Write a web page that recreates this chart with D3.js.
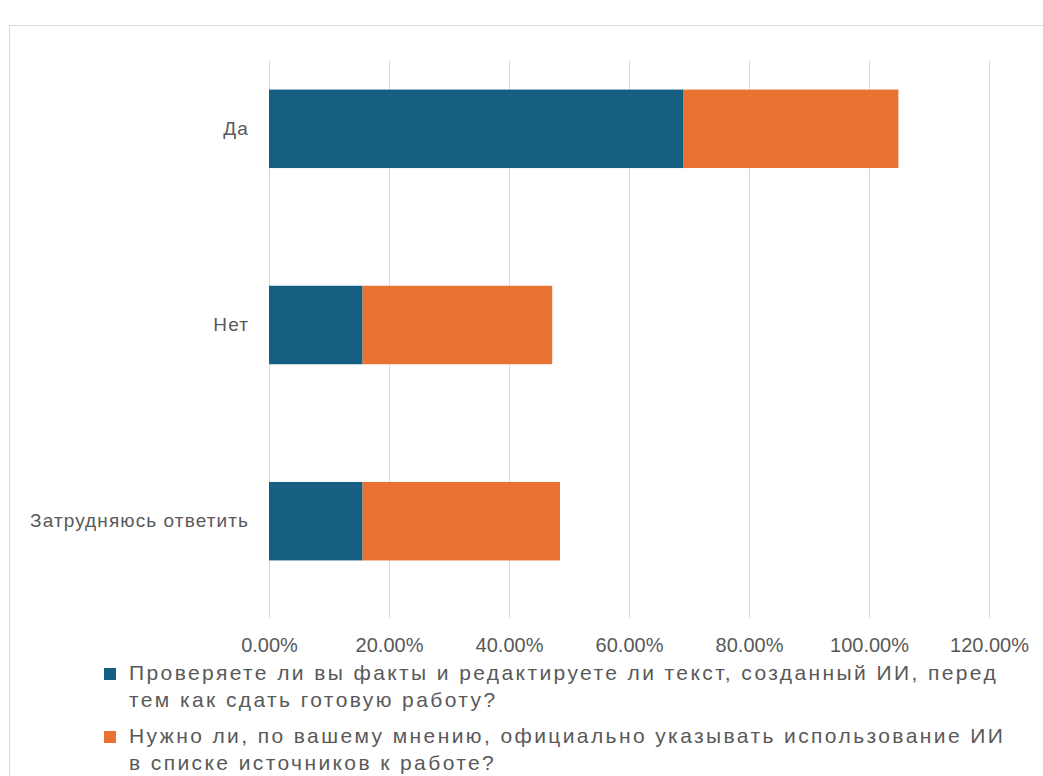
<!DOCTYPE html>
<html lang="ru">
<head>
<meta charset="utf-8" />
<title>ИИ: проверка и указание</title>
<script src="https://cdn.jsdelivr.net/npm/d3@7"></script>
<style>
  body { margin: 0; background: #fff; }
  text { font-family: "Liberation Sans", Arial, sans-serif; fill: #595959; }
</style>
</head>
<body>
<script>
// data
var categories = ["Да", "Нет", "Затрудняюсь ответить"];
var seriesNames = [
  "Проверяете ли вы факты и редактируете ли текст, созданный ИИ, перед тем как сдать готовую работу?",
  "Нужно ли, по вашему мнению, официально указывать использование ИИ в списке источников к работе?"
];
var checkValues = [69.0, 15.6, 15.6];
var citeValues = [35.9, 31.6, 32.9];
var tickValues = [0, 20, 40, 60, 80, 100, 120];

var colors = ["#156082", "#E97132"];
var w = 1043, h = 776;

var svg = d3.select("body").append("svg")
  .attr("width", w)
  .attr("height", h);

// chart area border (cropped on right/bottom)
svg.append("rect")
  .attr("x", 9.5).attr("y", 25.5)
  .attr("width", 1200).attr("height", 900)
  .attr("fill", "none")
  .attr("stroke", "#D9D9D9");

var xScale = d3.scaleLinear().domain([0, 120]).range([269, 989]);
var yScale = d3.scaleBand()
  .domain(categories)
  .range([30.7, 619.3])
  .paddingInner(0.6)
  .paddingOuter(0.3);

var gridTop = 61, gridBottom = 618;

// gridlines
svg.append("g")
  .selectAll("line")
  .data(tickValues)
  .enter()
  .append("line")
  .attr("x1", function(d) { return Math.round(xScale(d)) + 0.5; })
  .attr("x2", function(d) { return Math.round(xScale(d)) + 0.5; })
  .attr("y1", gridTop)
  .attr("y2", gridBottom)
  .attr("stroke", "#D9D9D9")
  .attr("stroke-width", 1);

// stacked bars
var rows = categories.map(function(c, i) {
  return { cat: c, check: checkValues[i], cite: citeValues[i] };
});
var stack = d3.stack().keys(["check", "cite"])(rows);

svg.append("g")
  .selectAll("g")
  .data(stack)
  .enter()
  .append("g")
  .attr("fill", function(d, i) { return colors[i]; })
  .selectAll("rect")
  .data(function(d) { return d; })
  .enter()
  .append("rect")
  .attr("x", function(d) { return xScale(d[0]); })
  .attr("y", function(d) { return yScale(d.data.cat); })
  .attr("width", function(d) { return xScale(d[1]) - xScale(d[0]); })
  .attr("height", yScale.bandwidth());

// x axis labels
var xAxis = d3.axisBottom(xScale)
  .tickValues(tickValues)
  .tickSize(0)
  .tickPadding(0)
  .tickFormat(function(d) { return d.toFixed(2) + "%"; });

var gx = svg.append("g")
  .attr("transform", "translate(0," + 638 + ")")
  .call(xAxis);
gx.select(".domain").remove();
gx.selectAll("text")
  .attr("font-size", 20)
  .attr("dy", "0.71em")
  .style("font-family", "'Liberation Sans', Arial, sans-serif")
  .attr("fill", "#595959");

// category labels
var yAxis = d3.axisLeft(yScale).tickSize(0).tickPadding(0);
var gy = svg.append("g")
  .attr("transform", "translate(249,0)")
  .call(yAxis);
gy.select(".domain").remove();
gy.selectAll("text")
  .attr("font-size", 19)
  .style("letter-spacing", "1.1px")
  .style("font-family", "'Liberation Sans', Arial, sans-serif")
  .attr("fill", "#595959");

// legend
var legendLines = [
  ["Проверяете ли вы факты и редактируете ли текст, созданный ИИ, перед", "тем как сдать готовую работу?"],
  ["Нужно ли, по вашему мнению, официально указывать использование ИИ", "в списке источников к работе?"]
];
var legendTop = [668, 731];

var legend = svg.append("g")
  .selectAll("g")
  .data(seriesNames)
  .enter()
  .append("g");

legend.append("rect")
  .attr("x", 104)
  .attr("y", function(d, i) { return legendTop[i]; })
  .attr("width", 12)
  .attr("height", 12)
  .attr("fill", function(d, i) { return colors[i]; });

legend.append("text")
  .attr("x", 129)
  .attr("y", function(d, i) { return legendTop[i] + 12; })
  .attr("font-size", 21)
  .style("letter-spacing", "2.4px")
  .selectAll("tspan")
  .data(function(d, i) { return legendLines[i]; })
  .enter()
  .append("tspan")
  .attr("x", 129)
  .attr("dy", function(d, j) { return j === 0 ? 0 : 27; })
  .text(function(d) { return d; });
</script>
</body>
</html>
